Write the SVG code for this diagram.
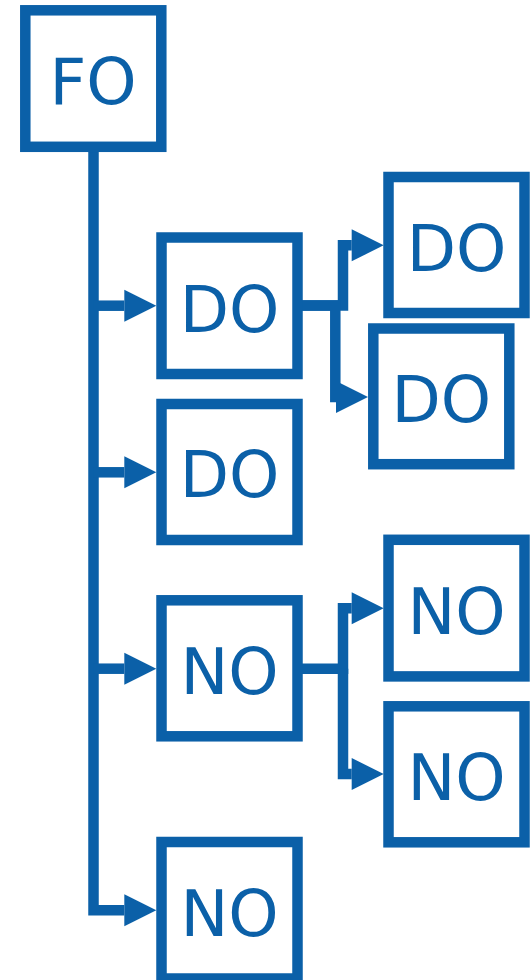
<svg xmlns="http://www.w3.org/2000/svg" width="532" height="980" viewBox="0 0 532 980">
<style>
.box{fill:#fff;stroke:#0b60a8;stroke-width:10.5}
.lbl{fill:#0b60a8;font-family:"DejaVu Sans","Liberation Sans",sans-serif;font-size:64px;text-anchor:middle}
.con{fill:none;stroke:#0b60a8;stroke-width:10.5;stroke-linejoin:miter;stroke-linecap:butt}
</style>
<defs>
<marker id="ah" markerUnits="userSpaceOnUse" markerWidth="32" markerHeight="32" refX="0" refY="16" orient="auto" overflow="visible">
<path d="M0,0 L32,16 L0,32 z" fill="#0b60a8"/>
</marker>
</defs>
<rect width="532" height="980" fill="#fff"/>
<g id="connectors">
<path class="con" d="M93.5,152 V910.3 H124.3" marker-end="url(#ah)"/>
<path class="con" d="M93.5,305.7 H124.3" marker-end="url(#ah)"/>
<path class="con" d="M93.5,472.3 H124.3" marker-end="url(#ah)"/>
<path class="con" d="M93.5,668.7 H124.3" marker-end="url(#ah)"/>
<path class="con" d="M302,305.5 H343 V245.3 H351.7" marker-end="url(#ah)"/>
<path class="con" d="M302,305.5 H335.3 V397 H336" marker-end="url(#ah)"/>
<path class="con" d="M302,668.7 H343 V608.2 H351.7" marker-end="url(#ah)"/>
<path class="con" d="M343,668.7 V774 H351.7" marker-end="url(#ah)"/>
</g>
<g id="n-fo">
<rect class="box" x="25.3" y="10.3" width="136" height="136.5"/>
<text class="lbl" x="93" y="104">FO</text>
</g>
<g id="n-do1">
<rect class="box" x="161.5" y="237.5" width="136" height="136.5"/>
<text class="lbl" x="229.5" y="331.5">DO</text>
</g>
<g id="n-do2">
<rect class="box" x="161.5" y="404" width="136" height="136"/>
<text class="lbl" x="229.5" y="497.3">DO</text>
</g>
<g id="n-no1">
<rect class="box" x="161.5" y="600.3" width="136" height="136"/>
<text class="lbl" x="229.5" y="693.8">NO</text>
</g>
<g id="n-no2">
<rect class="box" x="161.5" y="842" width="136" height="136.5"/>
<text class="lbl" x="229.5" y="935.5">NO</text>
</g>
<g id="n-do-r1">
<rect class="box" x="388.5" y="177" width="136" height="136"/>
<text class="lbl" x="456.5" y="270.5">DO</text>
</g>
<g id="n-do-r2">
<rect class="box" x="373.3" y="328.5" width="136" height="135.7"/>
<text class="lbl" x="441.3" y="421.8">DO</text>
</g>
<g id="n-no-r1">
<rect class="box" x="388.5" y="539.8" width="136" height="136.6"/>
<text class="lbl" x="456.5" y="633.6">NO</text>
</g>
<g id="n-no-r2">
<rect class="box" x="388.5" y="706.3" width="136" height="136"/>
<text class="lbl" x="456.5" y="799.8">NO</text>
</g>
</svg>
